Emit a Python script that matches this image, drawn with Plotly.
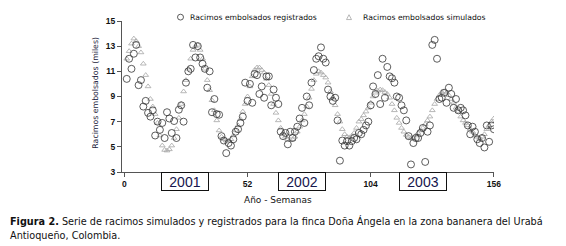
import plotly.graph_objects as go

weeks = list(range(1, 157))

simulados = [
    12.0, 12.6, 13.2, 13.6, 13.4, 13.0, 12.5, 11.6, 10.7, 9.8,
    8.8, 8.2, 7.6, 6.9, 5.9, 5.1, 4.75, 4.7, 4.8, 5.1,
    5.7, 6.4, 7.3, 8.4, 9.4, 10.3, 11.2, 12.0, 12.7, 13.0,
    13.1, 12.7, 12.0, 11.2, 10.3, 9.5, 8.7, 7.9, 7.1, 6.3,
    5.8, 5.6, 5.5, 5.5, 5.6, 5.9, 6.3, 6.7, 7.2, 7.8,
    8.4, 9.0, 9.8, 10.6, 11.1, 11.3, 11.3, 11.1, 10.9, 10.4,
    9.9, 9.2, 8.4, 7.7, 7.1, 6.5, 6.1, 5.8, 5.6, 5.55,
    5.6, 5.8, 6.2, 6.6, 7.1, 7.6, 8.2, 8.9, 9.6, 10.3,
    10.8, 11.0, 10.9, 10.7, 10.5, 10.1, 9.4, 8.9, 8.3, 7.6,
    7.0, 6.4, 6.0, 5.8, 5.75, 5.85, 6.1, 6.5, 7.0, 7.2,
    7.5, 7.8, 8.1, 8.5, 9.0, 9.3, 9.45, 9.55, 9.5, 9.35,
    9.2, 8.9, 8.4, 7.9, 7.3, 6.9, 6.5, 6.2, 5.95, 5.8,
    5.7, 5.7, 5.9, 6.1, 6.3, 6.5, 6.8, 7.1, 7.4, 7.9,
    8.4, 8.8, 9.1, 9.35, 9.4, 9.3, 9.1, 8.8, 8.5, 8.1,
    7.8, 7.4, 7.1, 6.9, 6.7, 6.4, 6.2, 5.9, 5.8, 5.7,
    5.8, 6.0, 6.4, 6.7, 7.0, 7.25,
]

registrados = [
    10.4, 12.0, 11.2, 12.4, 13.1, 9.9, 10.3, 8.2, 8.65, 7.7,
    7.4, 7.9, 5.9, 7.0, 6.35, 6.9, 5.7, 7.75, 7.25, 6.1,
    7.05, 5.7, 7.95, 8.3, 7.0, 10.1, 11.0, 11.2, 13.1, 12.1,
    13.0, 12.1,
    11.6, 11.2, 9.7, 11.0, 7.75, 8.8, 7.6, 7.55, 5.85, 5.5,
    4.5, 5.3, 5.1, 5.6, 6.2, 6.4, 6.9, 7.4, 10.1, 8.65,
    10.0, 8.5, 10.8, 10.7, 9.2, 9.8, 8.9, 10.6, 10.6, 8.3,
    9.55, 8.9, 8.4, 6.2, 5.85, 6.1, 5.2, 6.2, 5.7, 6.2,
    6.6, 7.25, 8.1, 6.9, 9.0, 8.3, 10.1, 11.1, 12.0, 12.2,
    12.9, 12.0, 11.7, 9.55, 9.0, 8.65, 8.9, 7.1, 3.9, 5.5,
    5.1,
    5.45, 5.1, 5.45, 5.7, 5.6, 6.1, 6.0, 6.35, 6.7, 7.0,
    8.3, 9.8, 9.2, 10.7, 8.4, 12.0, 8.9, 11.35, 10.6, 10.45,
    10.1, 9.0, 8.9, 8.3, 7.9, 7.1, 5.85, 3.6, 5.3, 5.7,
    5.7,
    6.1, 6.5, 3.8, 6.2, 6.7, 13.1, 13.5, 12.0, 8.8, 8.9,
    9.3, 8.5, 9.7, 9.2, 8.1, 8.8, 7.9, 8.1, 7.9, 7.5,
    6.7, 6.0, 6.6, 6.2, 5.6, 5.3, 5.7, 4.95, 6.7, 5.4,
    6.7, 6.4,
]

x_ticks = [0, 52, 104, 156]
y_ticks = [3, 5, 7, 9, 11, 13, 15]
year_labels = ["2001", "2002", "2003"]
serie_names = ["Racimos embolsados registrados", "Racimos embolsados simulados"]
x_title = "Año - Semanas"
y_title = "Racimos embolsados (miles)"
caption_1 = "<b>Figura 2.</b> Serie de racimos simulados y registrados para la finca Doña Ángela en la zona bananera del Urabá"
caption_2 = "Antioqueño, Colombia."

# page has an 8px body margin; work in page pixels and convert
OFF = 8
W, H = 566 - OFF, 246 - OFF
L, R, T, B = 122, 494, 16, 172  # plot area in page pixels


def px(x):
    return (x - L) / (R - L)


def py(y):
    return (B - y) / (B - T)


fig = go.Figure()
fig.add_trace(go.Scatter(
    x=weeks, y=simulados, mode="markers", name=serie_names[1],
    marker=dict(symbol="triangle-up-open", size=5, color="#a6a6a6", line=dict(width=0.8, color="#a6a6a6")),
))
fig.add_trace(go.Scatter(
    x=weeks, y=registrados, mode="markers", name=serie_names[0],
    marker=dict(symbol="circle-open", size=7, color="#333333", line=dict(width=0.8, color="#333333")),
))

fig.update_layout(
    width=W, height=H,
    margin=dict(l=L - OFF, r=566 - R, t=T - OFF, b=246 - B, pad=0),
    paper_bgcolor="white", plot_bgcolor="white",
    showlegend=False,
    font=dict(family="DejaVu Sans", color="#111111"),
)
axis_common = dict(
    showgrid=False, zeroline=False, showline=True, linecolor="#555555", linewidth=1,
    ticks="outside", ticklen=4, tickcolor="#555555",
    tickfont=dict(family="Liberation Sans", size=8.5, color="#111111", weight="bold"),
)
fig.update_xaxes(range=[-1, 156.05], tickvals=x_ticks, ticktext=[str(v) for v in x_ticks], **axis_common)
fig.update_yaxes(range=[3, 15], tickvals=y_ticks, ticktext=[str(v) for v in y_ticks], **axis_common)


def note(x, y, text, size, xanchor="center", color="#111111", family="DejaVu Sans", **kw):
    return dict(x=px(x), y=py(y), xref="paper", yref="paper", text=text, showarrow=False,
                xanchor=xanchor, yanchor="middle",
                font=dict(family=family, size=size, color=color), **kw)


ann = [
    note(96, 90, y_title, 7.8, color="#1a1a3a", textangle=-90),
    note(278, 201, x_title, 9),
    note(188, 12, serie_names[0], 7.7, xanchor="left"),
    note(361, 12, serie_names[1], 7.7, xanchor="left"),
    note(8, 223, caption_1, 9.7, xanchor="left"),
    note(8, 238, caption_2, 9.7, xanchor="left"),
]
for lab, cx in zip(year_labels, [185, 301.5, 423]):
    ann.append(note(cx, 182, lab, 14, color="#16164d", family="Liberation Sans",
                    width=44, height=15, borderpad=1, bordercolor="#111111", borderwidth=1))
fig.update_layout(annotations=ann)

shapes = [
    dict(type="circle", xref="paper", yref="paper", x0=px(177.5), x1=px(183.5), y0=py(15), y1=py(9),
         line=dict(color="#333333", width=0.8)),
    dict(type="path", xref="paper", yref="paper",
         path=f"M {px(346.5)} {py(14.5)} L {px(351.5)} {py(14.5)} L {px(349)} {py(9.5)} Z",
         line=dict(color="#a6a6a6", width=0.8)),
]
fig.update_layout(shapes=shapes)

fig.write_html("out.html")
